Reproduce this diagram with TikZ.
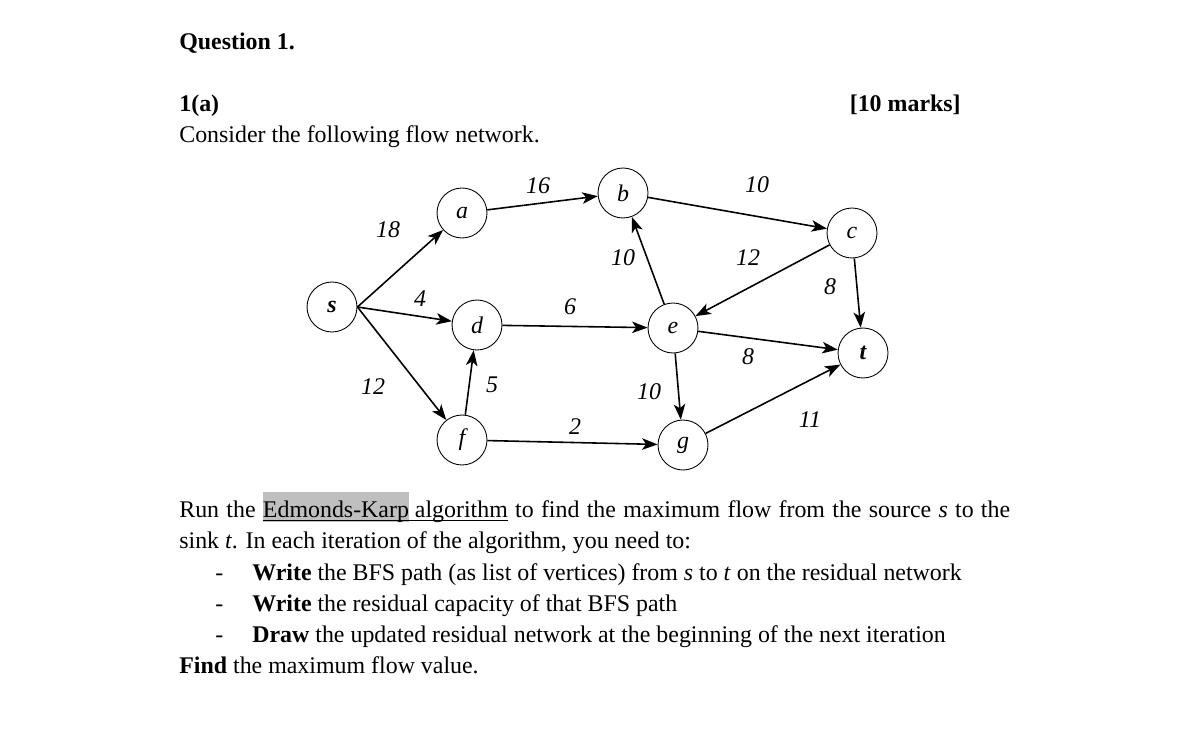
\documentclass[tikz,border=0pt]{standalone}
\usepackage{fontspec}
\setmainfont{Liberation Serif}
\usetikzlibrary{arrows.meta}
\definecolor{hlgray}{gray}{0.75}
\newcommand\ulinetext[1]{\setbox0\hbox{#1}\copy0\relax\llap{\rule[-2.4pt]{\wd0}{0.55pt}}}
\tikzstyle{vertex} = [circle, draw, line width=0.5pt, minimum size=1cm, inner sep=0pt, font=\itshape]
\tikzstyle{line} = [draw, line width=0.9pt, -{Stealth[length=3.1mm, width=2.3mm, inset=0.8mm]}]
\tikzstyle{weight} = [font=\itshape, inner sep=0pt]
\tikzstyle{txt} = [anchor=base west, inner sep=0pt]

\begin{document}
\begin{tikzpicture}[x=0.02cm, y=-0.02cm]
	\fontsize{13.6}{17.6}\selectfont
	\useasboundingbox (0,0) rectangle (1179,753);
		% heading
		\node[txt] (q1) at (179,50) {\textbf{Question 1.}};
		\node[txt] (qa) at (179,112) {\textbf{1(a)}};
		\node[txt, anchor=base east] (mk) at (961,112) {\textbf{[10 marks]}};
		\node[txt] (intro) at (179,143) {Consider the following flow network.};
		
		% flow network
		\node[vertex, font=\bfseries\itshape] (s) at (332,307) {s};
		\node[vertex] (a) at (462,213) {a};
		\node[vertex] (b) at (623,193) {b};
		\node[vertex] (c) at (852,233) {c};
		\node[vertex] (d) at (477,325) {d};
		\node[vertex] (e) at (673,328) {e};
		\node[vertex] (f) at (462,440) {f};
		\node[vertex] (g) at (683,445) {g};
		\node[vertex, font=\bfseries\itshape] (t) at (863,353) {t};
		
		\path[line] (s.east) -- (a);
		\path[line] (s.east) -- (d);
		\path[line] (s.east) -- (f);
		\path[line] (a) -- (b);
		\path[line] (d) -- (e);
		\path[line] (f) -- (d);
		\path[line] (f) -- (g);
		\path[line] (e) -- (b);
		\path[line] (b) -- (c);
		\path[line] (c) -- (e);
		\path[line] (c) -- (t);
		\path[line] (e) -- (t);
		\path[line] (e) -- (g);
		\path[line] (g) -- (t);
		
		\node[weight] (w-sa) at (388,230) {18};
		\node[weight] (w-sd) at (420,299) {4};
		\node[weight] (w-sf) at (373,387) {12};
		\node[weight] (w-ab) at (538,186) {16};
		\node[weight] (w-de) at (570,307) {6};
		\node[weight] (w-fd) at (492,385) {5};
		\node[weight] (w-fg) at (575,427) {2};
		\node[weight] (w-bc) at (757,185) {10};
		\node[weight] (w-eb) at (623,258) {10};
		\node[weight] (w-ce) at (748,258) {12};
		\node[weight] (w-ct) at (830,287) {8};
		\node[weight] (w-et) at (748,357) {8};
		\node[weight] (w-eg) at (649,392) {10};
		\node[weight] (w-gt) at (810,420) {11};
		
		% task text
		\node[txt] (p1) at (179,517) {\makebox[16.62cm][s]{Run the \ulinetext{{\setlength{\fboxsep}{0pt}\colorbox{hlgray}{\rule[-3pt]{0pt}{17pt}Edmonds-Karp}} algorithm} to find the maximum flow from the source \textit{s} to the}};
		\node[txt] (p2) at (179,548) {sink \textit{t}. In each iteration of the algorithm, you need to:};
		\node[txt] (d1) at (215,580) {-};
		\node[txt] (b1) at (252,580) {\textbf{Write} the BFS path (as list of vertices) from \textit{s} to \textit{t} on the residual network};
		\node[txt] (d2) at (215,611) {-};
		\node[txt] (b2) at (252,611) {\textbf{Write} the residual capacity of that BFS path};
		\node[txt] (d3) at (215,642) {-};
		\node[txt] (b3) at (252,642) {\textbf{Draw} the updated residual network at the beginning of the next iteration};
		\node[txt] (fd) at (179,673) {\textbf{Find} the maximum flow value.};
	\end{tikzpicture}
\end{document}
